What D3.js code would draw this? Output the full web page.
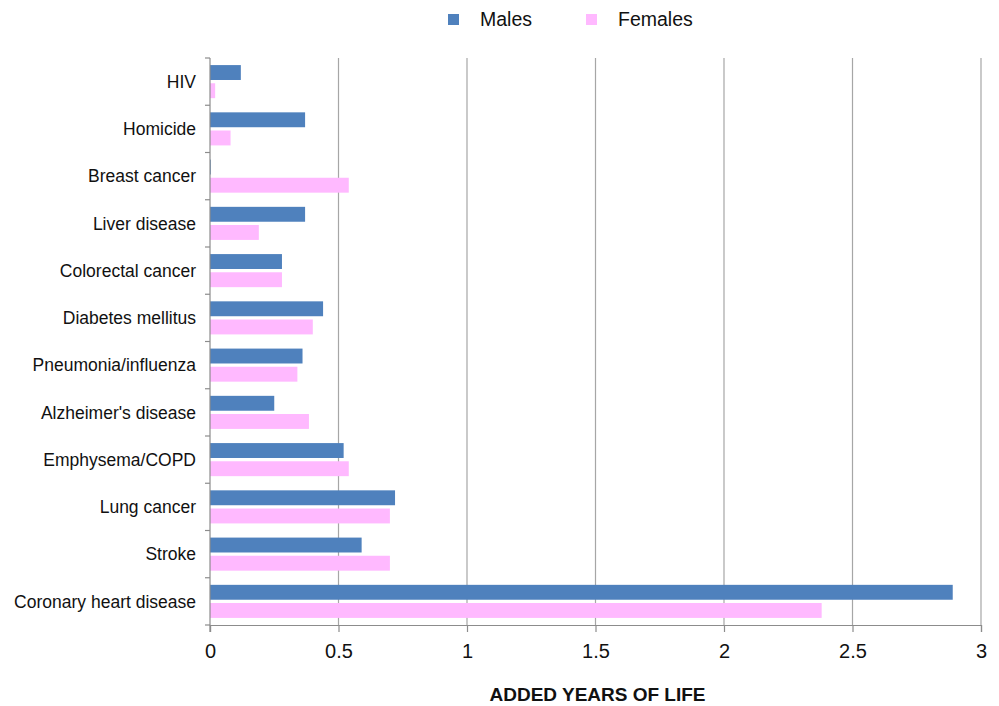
<!DOCTYPE html>
<html>
<head>
<meta charset="utf-8">
<script src="https://cdn.jsdelivr.net/npm/d3@7"></script>
<style>
  body { margin: 0; background: #fff; }
  svg { font-family: "Liberation Sans", Arial, Helvetica, sans-serif; }
</style>
</head>
<body>
<svg id="chart" width="999" height="706"></svg>
<script>
var causes = ["HIV", "Homicide", "Breast cancer", "Liver disease", "Colorectal cancer",
  "Diabetes mellitus", "Pneumonia/influenza", "Alzheimer's disease", "Emphysema/COPD",
  "Lung cancer", "Stroke", "Coronary heart disease"];
var males   = [0.12, 0.37, 0.003, 0.37, 0.28, 0.44, 0.36, 0.25, 0.52, 0.72, 0.59, 2.89];
var females = [0.02, 0.08, 0.54, 0.19, 0.28, 0.40, 0.34, 0.385, 0.54, 0.70, 0.70, 2.38];
var seriesNames = ["Males", "Females"];
var xTicks = [0, 0.5, 1, 1.5, 2, 2.5, 3];

var svg = d3.select("#chart"),
    margin = {top: 58, right: 18, bottom: 81, left: 210},
    width = +svg.attr("width") - margin.left - margin.right,
    height = +svg.attr("height") - margin.top - margin.bottom;

var color = d3.scaleOrdinal().domain(seriesNames).range(["#4f81bd", "#ffb9ff"]);

var x = d3.scaleLinear().domain([0, 3]).range([0, width]);
var y = d3.scaleBand().domain(causes).range([0, height]).paddingInner(0.3).paddingOuter(0.15);
var y1 = d3.scaleBand().domain(seriesNames).range([0, y.bandwidth()]).paddingInner(0.18);

var g = svg.append("g")
  .attr("transform", "translate(" + margin.left + "," + margin.top + ")");

// gridlines
g.selectAll(".grid")
  .data(xTicks.slice(1))
  .enter().append("line")
  .attr("x1", function(d) { return x(d); })
  .attr("x2", function(d) { return x(d); })
  .attr("y1", 0)
  .attr("y2", height)
  .attr("stroke", "#a6a6a6")
  .attr("stroke-width", 1.2);

var rows = causes.map(function(c, i) {
  return {cause: c, values: [{s: "Males", v: males[i]}, {s: "Females", v: females[i]}]};
});

var groups = g.selectAll(".row")
  .data(rows)
  .enter().append("g")
  .attr("transform", function(d) { return "translate(0," + y(d.cause) + ")"; });

groups.selectAll("rect")
  .data(function(d) { return d.values; })
  .enter().append("rect")
  .attr("x", 0)
  .attr("y", function(d) { return y1(d.s); })
  .attr("height", y1.bandwidth())
  .attr("width", function(d) { return x(d.v); })
  .attr("fill", function(d) { return color(d.s); });

// left axis with ticks at category boundaries
var step = height / causes.length;
g.append("line")
  .attr("x1", 0).attr("x2", 0).attr("y1", 0).attr("y2", height + 7)
  .attr("stroke", "#8c8c8c").attr("stroke-width", 1.2);
g.selectAll(".ytick")
  .data(d3.range(causes.length + 1))
  .enter().append("line")
  .attr("x1", -5).attr("x2", 0)
  .attr("y1", function(d) { return d * step; })
  .attr("y2", function(d) { return d * step; })
  .attr("stroke", "#8c8c8c").attr("stroke-width", 1.2);

g.selectAll(".ylabel")
  .data(causes)
  .enter().append("text")
  .attr("x", -14)
  .attr("y", function(d) { return y(d) + y.bandwidth() / 2; })
  .attr("dy", "0.35em")
  .attr("text-anchor", "end")
  .attr("font-size", 17.5)
  .attr("fill", "#111")
  .text(function(d) { return d; });

// bottom axis
var xAxis = g.append("g")
  .attr("transform", "translate(0," + height + ")")
  .call(d3.axisBottom(x).tickValues(xTicks).tickSize(7).tickPadding(12).tickFormat(d3.format("")));
xAxis.select(".domain").attr("stroke", "#8c8c8c").attr("stroke-width", 1.2);
xAxis.selectAll(".tick line").attr("stroke", "#8c8c8c").attr("stroke-width", 1.2);
xAxis.selectAll("text").attr("font-size", 20).attr("fill", "#111")
  .attr("font-family", "'Liberation Sans', Arial, sans-serif");

svg.append("text")
  .attr("x", margin.left + width / 2 + 2)
  .attr("y", 701)
  .attr("text-anchor", "middle")
  .attr("font-size", 19)
  .attr("font-weight", "bold")
  .attr("fill", "#111")
  .text("ADDED YEARS OF LIFE");

// legend
var legendX = [448, 586];
var legend = svg.selectAll(".legend")
  .data(seriesNames)
  .enter().append("g")
  .attr("transform", function(d, i) { return "translate(" + legendX[i] + ",14)"; });
legend.append("rect")
  .attr("width", 11).attr("height", 11)
  .attr("fill", function(d) { return color(d); });
legend.append("text")
  .attr("x", 32).attr("y", 12)
  .attr("font-size", 19.5)
  .attr("fill", "#111")
  .text(function(d) { return d; });
</script>
</body>
</html>
